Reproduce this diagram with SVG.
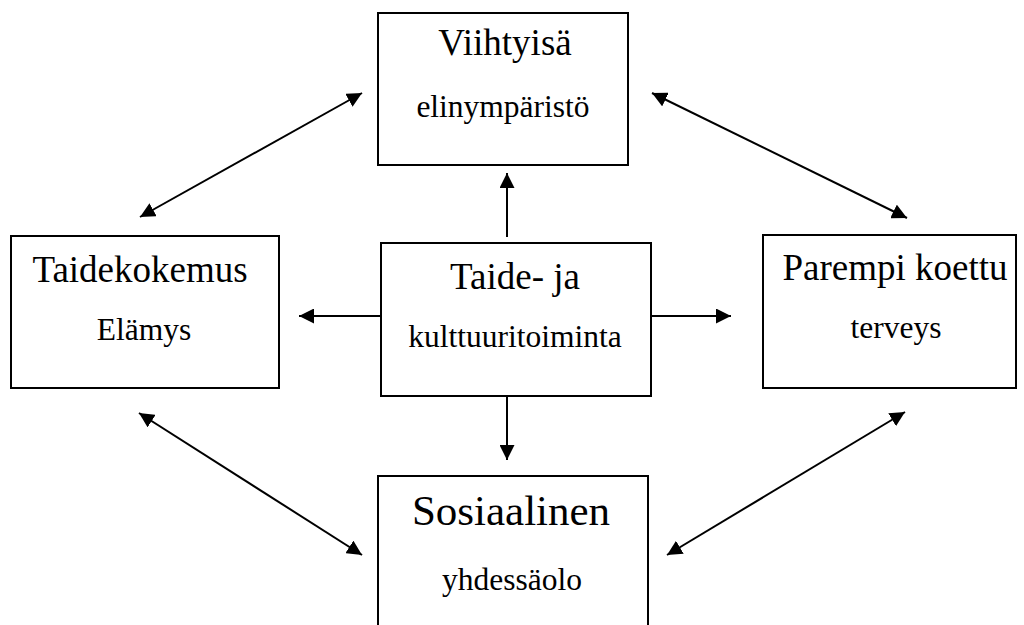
<svg xmlns="http://www.w3.org/2000/svg" width="1024" height="625" viewBox="0 0 1024 625">
<style>
.box{fill:#fff;stroke:#000;stroke-width:2}
.t{font-family:"Liberation Serif","Times New Roman",serif;fill:#000;text-anchor:middle}
.big{font-size:37px}
.sub{font-size:31.5px}
.conn line{stroke:#000;stroke-width:2;fill:none;marker-start:url(#ah);marker-end:url(#ah)}
.conn line.one{marker-start:none}
</style>
<defs>
<marker id="ah" viewBox="0 0 15 15" refX="15" refY="7.5" markerWidth="15" markerHeight="15" markerUnits="userSpaceOnUse" orient="auto-start-reverse">
<path d="M0,0 L15,7.5 L0,15 z" fill="#000"/>
</marker>
</defs>
<rect width="1024" height="625" fill="#fff"/>
<g id="viihtyisa">
<rect class="box" x="378" y="13" width="250" height="152"/>
<text class="t big" x="505" y="55">Viihtyisä</text>
<text class="t sub" x="503" y="117">elinympäristö</text>
</g>
<g id="taidekokemus">
<rect class="box" x="11" y="236" width="268" height="152"/>
<text class="t big" x="140" y="282">Taidekokemus</text>
<text class="t sub" x="144" y="340">Elämys</text>
</g>
<g id="taide">
<rect class="box" x="381" y="243" width="270" height="153"/>
<text class="t big" x="515" y="289">Taide- ja</text>
<text class="t sub" x="515" y="347">kulttuuritoiminta</text>
</g>
<g id="parempi">
<rect class="box" x="763" y="235" width="253" height="153"/>
<text class="t big" x="895" y="280">Parempi koettu</text>
<text class="t sub" x="896" y="338">terveys</text>
</g>
<g id="sosiaalinen">
<rect class="box" x="378" y="476" width="270" height="160"/>
<text class="t" style="font-size:43px" x="511" y="525">Sosiaalinen</text>
<text class="t sub" x="512" y="590">yhdessäolo</text>
</g>
<g id="connectors" class="conn">
<line class="one" x1="507" y1="237" x2="507" y2="173"/>
<line class="one" x1="381" y1="316" x2="299" y2="316"/>
<line class="one" x1="651" y1="316" x2="731" y2="316"/>
<line class="one" x1="507" y1="396" x2="507" y2="460"/>
<line x1="140" y1="217" x2="362" y2="93"/>
<line x1="652" y1="93" x2="907" y2="218"/>
<line x1="139" y1="413" x2="362" y2="555"/>
<line x1="905" y1="412" x2="667" y2="555"/>
</g>
</svg>
